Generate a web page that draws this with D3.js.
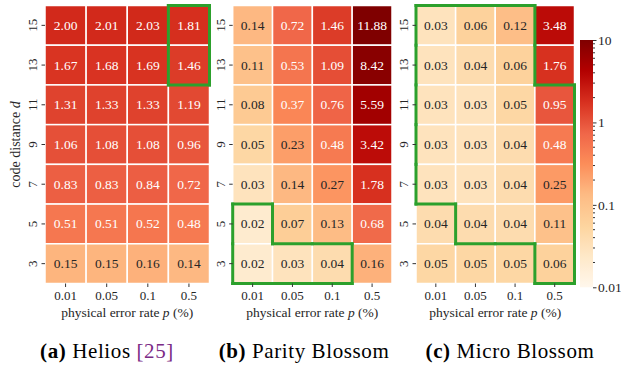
<!DOCTYPE html>
<html>
<head>
<meta charset="utf-8">
<script src="https://cdn.jsdelivr.net/npm/d3@7"></script>
<style>
  body { margin: 0; background: #fff; }
  svg text { font-family: "Liberation Serif", "Times New Roman", serif !important; }
</style>
</head>
<body>
<svg id="chart"></svg>
<script>
// Canvas
const width = 621;
const height = 366;

// Data: rows top to bottom, columns = physical error rates
const rates = ["0.01", "0.05", "0.1", "0.5"];
const distances = [15, 13, 11, 9, 7, 5, 3];

const heliosValues = [
  [2.00, 2.01, 2.03, 1.81],
  [1.67, 1.68, 1.69, 1.46],
  [1.31, 1.33, 1.33, 1.19],
  [1.06, 1.08, 1.08, 0.96],
  [0.83, 0.83, 0.84, 0.72],
  [0.51, 0.51, 0.52, 0.48],
  [0.15, 0.15, 0.16, 0.14]
];
const parityValues = [
  [0.14, 0.72, 1.46, 11.88],
  [0.11, 0.53, 1.09, 8.42],
  [0.08, 0.37, 0.76, 5.59],
  [0.05, 0.23, 0.48, 3.42],
  [0.03, 0.14, 0.27, 1.78],
  [0.02, 0.07, 0.13, 0.68],
  [0.02, 0.03, 0.04, 0.16]
];
const microValues = [
  [0.03, 0.06, 0.12, 3.48],
  [0.03, 0.04, 0.06, 1.76],
  [0.03, 0.03, 0.05, 0.95],
  [0.03, 0.03, 0.04, 0.48],
  [0.03, 0.03, 0.04, 0.25],
  [0.04, 0.04, 0.04, 0.11],
  [0.05, 0.05, 0.05, 0.06]
];

// highlighted cells [distance, rate]
const heliosBox = [[15, "0.5"], [13, "0.5"]];
const parityBox = [[5, "0.01"], [3, "0.01"], [3, "0.05"], [3, "0.1"]];
const microBox = [
  [15, "0.01"], [15, "0.05"], [15, "0.1"],
  [13, "0.01"], [13, "0.05"], [13, "0.1"],
  [11, "0.01"], [11, "0.05"], [11, "0.1"], [11, "0.5"],
  [9, "0.01"], [9, "0.05"], [9, "0.1"], [9, "0.5"],
  [7, "0.01"], [7, "0.05"], [7, "0.1"], [7, "0.5"],
  [5, "0.05"], [5, "0.1"], [5, "0.5"],
  [3, "0.5"]
];

const colorbarTicks = [0.01, 0.1, 1, 10];

const svg = d3.select("#chart")
  .attr("width", width)
  .attr("height", height);

// matplotlib-style OrRd, log norm
const interp = d3.piecewise(d3.interpolateRgb, d3.schemeOrRd[9]);
const color = d3.scaleSequentialLog(interp).domain([0.01, 10]).clamp(true);

function luminance(c) {
  const rgb = d3.rgb(c);
  const f = v => { v /= 255; return v <= 0.03928 ? v / 12.92 : Math.pow((v + 0.055) / 1.055, 2.4); };
  return 0.2126 * f(rgb.r) + 0.7152 * f(rgb.g) + 0.0722 * f(rgb.b);
}

const gridTop = 5.5, gridBottom = 283.5;
const y = d3.scaleBand().domain(distances).range([gridTop, gridBottom]);

const panels = [
  { values: heliosValues, box: heliosBox, x0: 45, x1: 209.5 },
  { values: parityValues, box: parityBox, x0: 232.7, x1: 392 },
  { values: microValues, box: microBox, x0: 416, x1: 574.5 }
];

panels.forEach(p => {
  const x = d3.scaleBand().domain(rates).range([p.x0, p.x1]);
  const g = svg.append("g");

  const cells = [];
  p.values.forEach((row, i) => row.forEach((v, j) => cells.push({ d: distances[i], r: rates[j], v })));

  g.selectAll("rect")
    .data(cells)
    .join("rect")
    .attr("x", d => x(d.r))
    .attr("y", d => y(d.d))
    .attr("width", x.bandwidth())
    .attr("height", y.bandwidth())
    .attr("fill", d => color(d.v))
    .attr("stroke", "#fff")
    .attr("stroke-width", 1.5);

  g.selectAll("text.val")
    .data(cells)
    .join("text")
    .attr("class", "val")
    .attr("x", d => x(d.r) + x.bandwidth() / 2)
    .attr("y", d => y(d.d) + y.bandwidth() / 2)
    .attr("text-anchor", "middle")
    .attr("dominant-baseline", "central")
    .attr("font-size", 13.5)
    .attr("fill", d => luminance(color(d.v)) > 0.408 ? "#262626" : "#fff")
    .text(d => d.v.toFixed(2));

  // green outline around highlighted cells
  const key = (d, r) => d + "|" + r;
  const inBox = new Set(p.box.map(c => key(c[0], c[1])));
  const segs = [];
  p.box.forEach(([d, r]) => {
    const di = distances.indexOf(d), ri = rates.indexOf(r);
    const ax = x(r), bx = ax + x.bandwidth(), ay = y(d), by = ay + y.bandwidth();
    if (di === 0 || !inBox.has(key(distances[di - 1], r))) segs.push([ax, ay, bx, ay]);
    if (di === distances.length - 1 || !inBox.has(key(distances[di + 1], r))) segs.push([ax, by, bx, by]);
    if (ri === 0 || !inBox.has(key(d, rates[ri - 1]))) segs.push([ax, ay, ax, by]);
    if (ri === rates.length - 1 || !inBox.has(key(d, rates[ri + 1]))) segs.push([bx, ay, bx, by]);
  });
  g.selectAll("line.box")
    .data(segs)
    .join("line")
    .attr("class", "box")
    .attr("x1", s => s[0]).attr("y1", s => s[1])
    .attr("x2", s => s[2]).attr("y2", s => s[3])
    .attr("stroke", "#2ca02c")
    .attr("stroke-width", 3)
    .attr("stroke-linecap", "square");

  // axes
  const yAxis = g.append("g")
    .attr("transform", `translate(${p.x0},0)`)
    .call(d3.axisLeft(y).tickSize(3.5));
  yAxis.select(".domain").remove();
  yAxis.selectAll("line").attr("stroke", "#333");
  yAxis.selectAll("text")
    .attr("x", null).attr("dy", null)
    .attr("text-anchor", "middle")
    .attr("transform", "translate(-8,0) rotate(-90)")
    .attr("font-size", 13)
    .attr("fill", "#262626");

  const xAxis = g.append("g")
    .attr("transform", `translate(0,${gridBottom})`)
    .call(d3.axisBottom(x).tickSize(3.5).tickPadding(3.5));
  xAxis.select(".domain").remove();
  xAxis.selectAll("line").attr("stroke", "#333");
  xAxis.selectAll("text")
    .attr("font-size", 13)
    .attr("fill", "#262626");

  const xl = g.append("text")
    .attr("x", (p.x0 + p.x1) / 2)
    .attr("y", 317)
    .attr("text-anchor", "middle")
    .attr("font-size", 13.5)
    .attr("fill", "#262626");
  xl.append("tspan").text("physical error rate ");
  xl.append("tspan").attr("font-style", "italic").text("p");
  xl.append("tspan").text(" (%)");
});

// y label
const yl = svg.append("text")
  .attr("transform", `translate(20,${(gridTop + gridBottom) / 2}) rotate(-90)`)
  .attr("text-anchor", "middle")
  .attr("font-size", 14)
  .attr("fill", "#262626");
yl.append("tspan").text("code distance ");
yl.append("tspan").attr("font-style", "italic").text("d");

// colorbar
const cbX = 580, cbW = 13, cbTop = 40, cbBottom = 287.3;
const cbScale = d3.scaleLog().domain([0.01, 10]).range([cbBottom, cbTop]);
const grad = svg.append("defs").append("linearGradient")
  .attr("id", "cbgrad")
  .attr("x1", 0).attr("y1", 1).attr("x2", 0).attr("y2", 0);
grad.selectAll("stop")
  .data(d3.range(0, 1.0001, 0.02))
  .join("stop")
  .attr("offset", t => t)
  .attr("stop-color", t => interp(t));
svg.append("rect")
  .attr("x", cbX).attr("y", cbTop)
  .attr("width", cbW).attr("height", cbBottom - cbTop)
  .attr("fill", "url(#cbgrad)");

const cbAxis = svg.append("g")
  .attr("transform", `translate(${cbX + cbW},0)`)
  .call(d3.axisRight(cbScale).tickValues(colorbarTicks).tickFormat(d => String(d)).tickSize(3.5).tickPadding(1.5));
cbAxis.select(".domain").remove();
cbAxis.selectAll("line").attr("stroke", "#333");
cbAxis.selectAll("text")
  .attr("font-size", 13.5)
  .attr("fill", "#262626");
cbAxis.selectAll("line.minor")
  .data(cbScale.ticks().filter(v => !colorbarTicks.includes(v)))
  .join("line")
  .attr("class", "minor")
  .attr("x1", 0).attr("x2", 2)
  .attr("y1", v => cbScale(v)).attr("y2", v => cbScale(v))
  .attr("stroke", "#333");

// captions
const captions = [
  { tag: "(a)", name: " Helios ", ref: "[25]", cx: 107 },
  { tag: "(b)", name: " Parity Blossom", ref: "", cx: 304 },
  { tag: "(c)", name: " Micro Blossom", ref: "", cx: 510 }
];
captions.forEach(c => {
  const t = svg.append("text")
    .attr("x", c.cx).attr("y", 358)
    .attr("text-anchor", "middle")
    .attr("font-size", 21)
    .attr("letter-spacing", 0.6)
    .attr("fill", "#000");
  t.append("tspan").attr("font-weight", "bold").text(c.tag);
  t.append("tspan").text(c.name);
  if (c.ref) t.append("tspan").attr("fill", "#7b2a86").text(c.ref);
});
</script>
</body>
</html>
